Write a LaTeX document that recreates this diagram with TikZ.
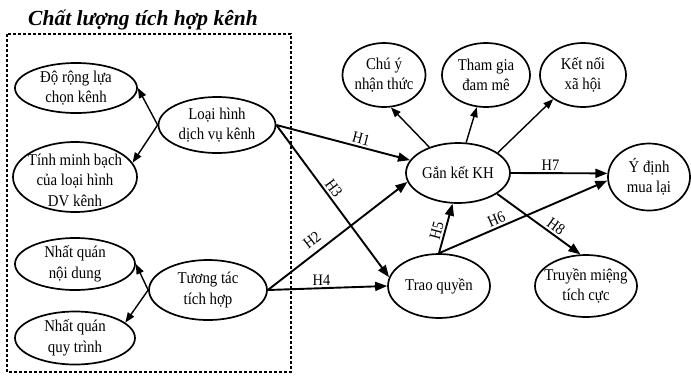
\documentclass[tikz,border=0pt]{standalone}
\usepackage{fontspec}
\setmainfont{Liberation Serif}
\newfontfamily\condfont[FakeStretch=0.9]{Liberation Serif}
\usetikzlibrary{shapes.geometric,arrows.meta}
\tikzset{
  ell/.style={ellipse, draw, line width=1.7pt, inner sep=0pt},
  txt/.style={font=\condfont\fontsize{16.5}{20.5}\selectfont, align=center, inner sep=0pt},
  harrow/.style={line width=1.9pt, -{Triangle[length=12pt,width=9pt]}},
  sarrow/.style={line width=1.4pt, -{Triangle[length=10pt,width=7.5pt]}},
  hlab/.style={font=\condfont\fontsize{16}{18}\selectfont, inner sep=2pt},
}
\begin{document}
\begin{tikzpicture}[x=1pt,y=-1pt]
\useasboundingbox (0,0) rectangle (691,376);
% title
\node[font=\fontsize{21.5}{24}\selectfont\bfseries\itshape] (title) at (143,20) {Chất lượng tích hợp kênh};
% dashed group
\draw[line width=1.1pt, dash pattern=on 3pt off 2pt] (7,34) rectangle (291,372);
% left nodes
\node[ell, minimum width=122pt, minimum height=50pt, label={[txt]center:{Độ rộng lựa\\chọn kênh}}] (dr) at (76,88) {};
\node[ell, minimum width=124pt, minimum height=70pt, label={[txt,yshift=-3pt]center:{Tính minh bạch\\của loại hình\\DV kênh}}] (tm) at (75,177) {};
\node[ell, minimum width=117pt, minimum height=56pt, label={[txt]center:{Loại hình\\dịch vụ kênh}}] (lh) at (217,125) {};
\node[ell, minimum width=120pt, minimum height=52pt, label={[txt]center:{Nhất quán\\nội dung}}] (nq1) at (75,264) {};
\node[ell, minimum width=120pt, minimum height=53pt, label={[txt]center:{Nhất quán\\quy trình}}] (nq2) at (75,338) {};
\node[ell, minimum width=118pt, minimum height=60pt, label={[txt]center:{Tương tác\\tích hợp}}] (tt) at (208,290) {};
% right nodes
\node[ell, minimum width=83pt, minimum height=64pt, label={[txt]center:{Chú ý\\nhận thức}}] (cy) at (384,75) {};
\node[ell, minimum width=88pt, minimum height=64pt, label={[txt]center:{Tham gia\\đam mê}}] (tg) at (486,75) {};
\node[ell, minimum width=86pt, minimum height=64pt, label={[txt]center:{Kết nối\\xã hội}}] (kn) at (583,75) {};
\node[ell, minimum width=104pt, minimum height=60pt, label={[txt]center:{Gắn kết KH}}] (gk) at (458,173) {};
\node[ell, minimum width=82pt, minimum height=67pt, label={[txt]center:{Ý định\\mua lại}}] (yd) at (649,177) {};
\node[ell, minimum width=102pt, minimum height=64pt, label={[txt]center:{Trao quyền}}] (tq) at (439,286) {};
\node[ell, minimum width=102pt, minimum height=62pt, label={[txt]center:{Truyền miệng\\tích cực}}] (tr) at (586,286) {};
% left arrows
\draw[sarrow] (lh.west) -- (dr.east);
\draw[sarrow] (lh.west) -- (tm.14);
\draw[sarrow] (tt.west) -- (nq1.east);
\draw[sarrow] (tt.west) -- (nq2.17);
% engagement dimensions
\draw[sarrow] (gk.138) -- (cy.-78);
\draw[sarrow] (gk.75) -- (tg.-106);
\draw[sarrow] (gk.27) -- (kn.219);
% hypotheses
\draw[harrow] (lh.east) -- node[hlab, sloped, above, pos=0.62] {H1} (gk.165);
\draw[harrow] (tt.east) -- node[hlab, sloped, above=4pt, pos=0.37] {H2} (gk.190);
\draw[harrow] (lh.east) -- node[hlab, sloped, above, pos=0.45] {H3} (tq.170);
\draw[harrow] (tt.east) -- node[hlab, above, pos=0.45] {H4} (tq.west);
\draw[harrow] (tq.north) -- node[hlab, sloped, above, pos=0.42] {H5} (gk.260);
\draw[harrow] (tq.north) -- node[hlab, sloped, above, pos=0.36] {H6} (yd.185);
\draw[harrow] (gk.east) -- node[hlab, above, pos=0.41] {H7} (yd.175);
\draw[harrow] (gk.-28) -- node[hlab, sloped, above, pos=0.65] {H8} (tr.100);
\end{tikzpicture}
\end{document}
